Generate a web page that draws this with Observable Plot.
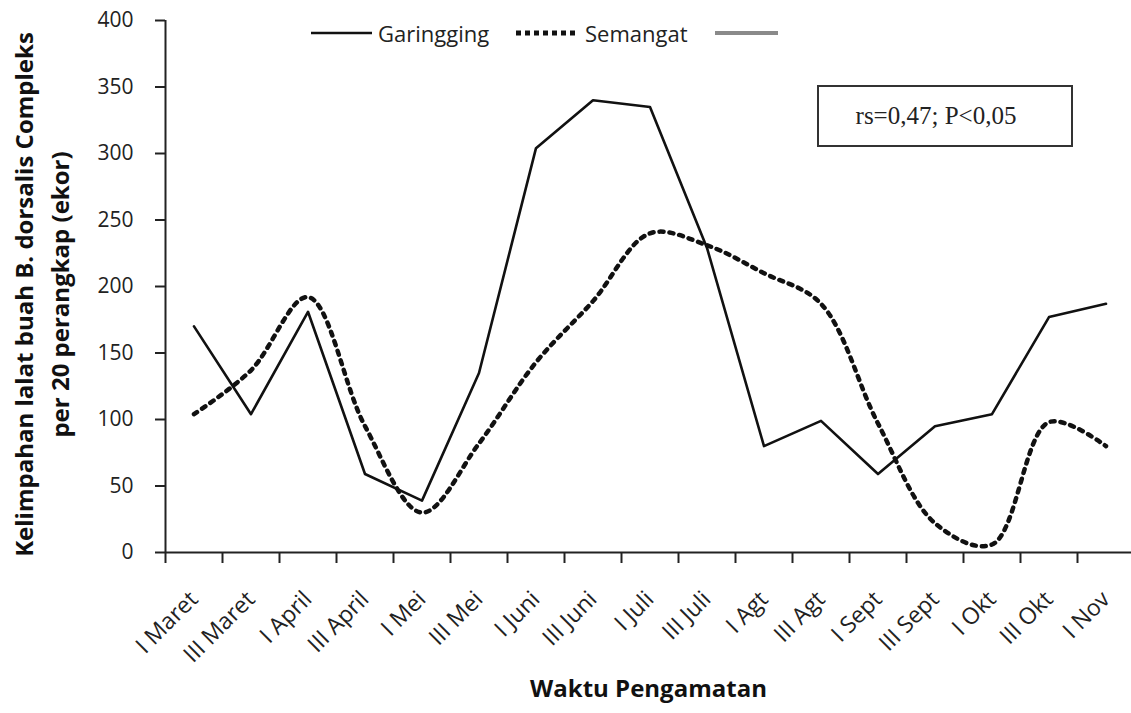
<!DOCTYPE html>
<html>
<head>
<meta charset="utf-8">
<script src="https://cdn.jsdelivr.net/npm/d3@7"></script>
<script src="https://cdn.jsdelivr.net/npm/@observablehq/plot@0.6"></script>
<style>
  html, body { margin: 0; padding: 0; background: #fff; }
  #wrap { position: relative; width: 1131px; height: 713px; overflow: hidden; font-family: "Open Sans", sans-serif; }
  #legend { position: absolute; left: 0; top: 0; }
  #note { position: absolute; left: 817px; top: 85px; width: 256px; height: 62px; border: 2px solid #333;
          font-family: "Liberation Serif", "Times New Roman", serif; font-size: 25px; color: #222;
          display: flex; align-items: center; justify-content: center; padding-right: 18px; box-sizing: border-box; }
</style>
</head>
<body>
<div id="wrap">
  <div id="chart"></div>
  <svg id="legend" width="1131" height="60">
    <line x1="311" x2="372" y1="33" y2="33" stroke="#111" stroke-width="2.5"></line>
    <text x="378" y="33" dominant-baseline="central" font-family="Open Sans" font-size="22" fill="#222">Garingging</text>
    <line x1="516" x2="579" y1="33" y2="33" stroke="#111" stroke-width="5" stroke-dasharray="5,4"></line>
    <text x="585" y="33" dominant-baseline="central" font-family="Open Sans" font-size="22" fill="#222">Semangat</text>
    <line x1="715" x2="778" y1="33" y2="33" stroke="#8a8a8a" stroke-width="4"></line>
  </svg>
  <div id="note">rs=0,47; P&lt;0,05</div>
</div>
<script>
const categories = ["I Maret","III Maret","I April","III April","I Mei","III Mei","I Juni","III Juni","I Juli","III Juli","I Agt","III Agt","I Sept","III Sept","I Okt","III Okt","I Nov"];
const garingging = [170,104,181,59,39,135,304,340,335,229,80,99,59,95,104,177,187];
const semangat   = [104,137,192,95,30,82,143,189,240,231,210,187,97,22,6,98,80];
const yTicks = [0,50,100,150,200,250,300,350,400];
const yTitle1 = "Kelimpahan lalat buah B. dorsalis Compleks";
const yTitle2 = "per 20 perangkap (ekor)";
const xTitle = "Waktu Pengamatan";

const rows = categories.map((c, i) => ({i, c, g: garingging[i], s: semangat[i]}));
const edges = d3.range(categories.length + 1);
const centers = d3.range(categories.length).map(i => i + 0.5);

const chart = Plot.plot({
  width: 1131,
  height: 713,
  marginTop: 20,
  marginBottom: 161,
  marginLeft: 165,
  marginRight: 0,
  style: {fontFamily: "'Open Sans', sans-serif", background: "white", color: "#222"},
  x: {type: "linear", domain: [0, categories.length], range: [165, 1134]},
  y: {domain: [0, 400], range: [552, 20]},
  marks: [
    Plot.axisY({ticks: yTicks, tickSize: 10, tickPadding: 22, fontSize: 21, strokeWidth: 2, stroke: "#222", label: null}),
    Plot.axisX({ticks: edges, tickSize: 11, tickFormat: () => "", strokeWidth: 2, stroke: "#222", label: null}),
    Plot.axisX({ticks: centers, tickSize: 0, tickPadding: 43, tickRotate: -45, fontSize: 23,
                tickFormat: v => categories[Math.floor(v)], label: null}),
    Plot.ruleX([0], {stroke: "#222", strokeWidth: 2}),
    Plot.ruleY([0], {stroke: "#222", strokeWidth: 2}),
    Plot.line(rows, {x: d => d.i + 0.5, y: "g", stroke: "#111", strokeWidth: 2.6}),
    Plot.line(rows, {x: d => d.i + 0.5, y: "s", stroke: "#111", strokeWidth: 4.5, strokeDasharray: "4,6", curve: "catmull-rom"}),
    Plot.text([yTitle1], {frameAnchor: "left", textAnchor: "middle", dx: -140, dy: 8, rotate: -90, fontSize: 24, fontWeight: "bold", fill: "#111"}),
    Plot.text([yTitle2], {frameAnchor: "left", textAnchor: "middle", dx: -104, dy: 8, rotate: -90, fontSize: 24, fontWeight: "bold", fill: "#111"}),
    Plot.text([xTitle], {frameAnchor: "bottom", dy: 144, fontSize: 24, fontWeight: "bold", fill: "#111"})
  ]
});
document.getElementById("chart").appendChild(chart);
</script>
</body>
</html>
